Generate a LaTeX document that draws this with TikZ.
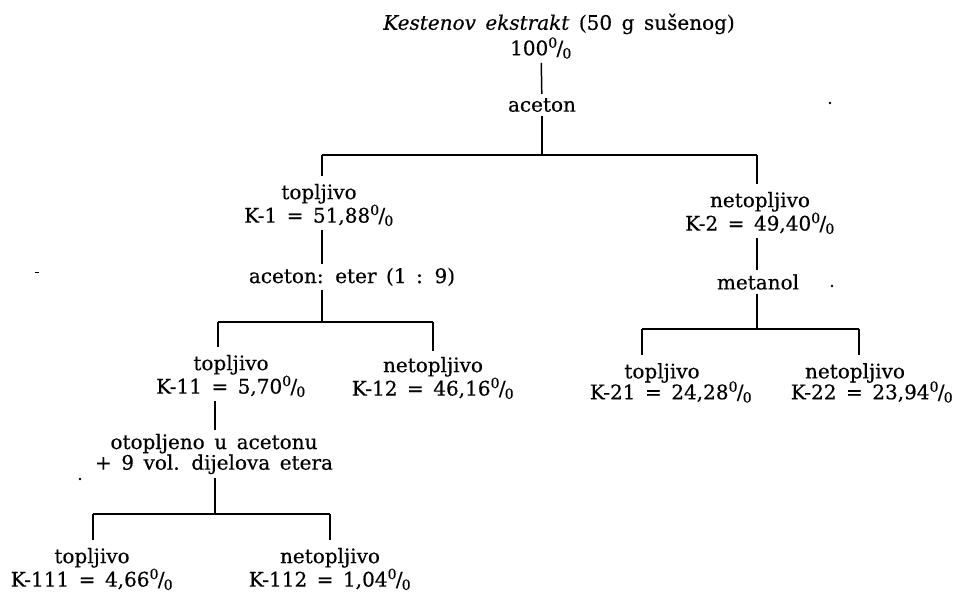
\documentclass[tikz,border=0pt]{standalone}
\usepackage{fontspec}
\setmainfont{DejaVu Serif}[WordSpace={1.5},FakeBold=0.4]
\newcommand\pct{\textsuperscript{0}\kern-0.06em/\kern-0.04em\textsubscript{0}}
\begin{document}
\begin{tikzpicture}[x=1pt,y=-1pt,
  lbl/.style={inner sep=0pt,align=center,font=\fontsize{20}{19}\selectfont},
  ln/.style={line width=1.5pt},
  gap/.style={shorten <=4pt,shorten >=4pt},
  speck/.style={fill=black}]
\useasboundingbox[fill=white] (0,0) rectangle (962,593);

% root
\node[lbl,anchor=east] (root) at (735,24) {\textit{Kestenov ekstrakt} (50 g sušenog)};
\node[lbl] (p100) at (541,48) {100\pct};
\node[lbl] (ac) at (542,105) {aceton};
\coordinate (j0) at (542,155);
\coordinate (j0l) at (322,155);
\coordinate (j0r) at (757,155);

% level 1
\node[lbl] (k1) at (319,205) {topljivo\\K-1 = 51,88\pct};
\node[lbl] (k2) at (760,213) {netopljivo\\K-2 = 49,40\pct};

% left branch
\node[lbl] (ae) at (352,277) {aceton: eter (1 : 9)};
\coordinate (j1) at (322,322);
\coordinate (j1l) at (218,322);
\coordinate (j1r) at (433,322);
\node[lbl] (k11) at (231,376) {topljivo\\K-11 = 5,70\pct};
\node[lbl] (k12) at (433,378) {netopljivo\\K-12 = 46,16\pct};

\node[lbl] (ot) at (214,454) {otopljeno u acetonu\\+ 9 vol. dijelova etera};
\coordinate (j3) at (215,514);
\coordinate (j3l) at (93,514);
\coordinate (j3r) at (330,514);
\node[lbl] (k111) at (92,569) {topljivo\\K-111 = 4,66\pct};
\node[lbl] (k112) at (330,569) {netopljivo\\K-112 = 1,04\pct};

% right branch
\node[lbl] (me) at (758,282) {metanol};
\coordinate (j2) at (757,329);
\coordinate (j2l) at (642,329);
\coordinate (j2r) at (859,329);
\node[lbl] (k21) at (662,373) {topljivo};
\node[lbl] (k21v) at (671,392) {K-21 = 24,28\pct};
\node[lbl] (k22) at (855,373) {netopljivo};
\node[lbl] (k22v) at (872,392) {K-22 = 23,94\pct};

% connectors
\draw[ln,gap] (p100) -- (ac);
\draw[ln,shorten <=4pt] (ac) -- (j0);
\draw[ln] (j0l) -- (j0r);
\draw[ln,shorten >=8pt] (j0l) -- (k1.north -| j0l);
\draw[ln,shorten >=8pt] (j0r) -- (k2.north -| j0r);

\draw[ln,gap] (k1.south -| j0l) -- (ae.north -| j0l);
\draw[ln,shorten <=4pt] (ae.south -| j1) -- (j1);
\draw[ln] (j1l) -- (j1r);
\draw[ln,shorten >=8pt] (j1l) -- (k11.north -| j1l);
\draw[ln,shorten >=6pt] (j1r) -- (k12.north -| j1r);

\draw[ln,gap] (k11.south -| j3) -- (ot.north -| j3);
\draw[ln,shorten <=4pt] (ot.south -| j3) -- (j3);
\draw[ln] (j3l) -- (j3r);
\draw[ln,shorten >=8pt] (j3l) -- (k111.north -| j3l);
\draw[ln,shorten >=8pt] (j3r) -- (k112.north -| j3r);

\draw[ln,gap] (k2.south -| j0r) -- (me.north -| j0r);
\draw[ln,shorten <=4pt] (me.south -| j2) -- (j2);
\draw[ln] (j2l) -- (j2r);
\draw[ln,shorten >=8pt] (j2l) -- (k21.north -| j2l);
\draw[ln,shorten >=8pt] (j2r) -- (k22.north -| j2r);

% scan specks
\fill[speck] (832,286) circle (1.4);
\fill[speck] (830,103) circle (1.3);
\fill[speck] (80,479) circle (1.4);
\fill[speck] (35,272) rectangle (39,273.5);
\end{tikzpicture}
\end{document}
